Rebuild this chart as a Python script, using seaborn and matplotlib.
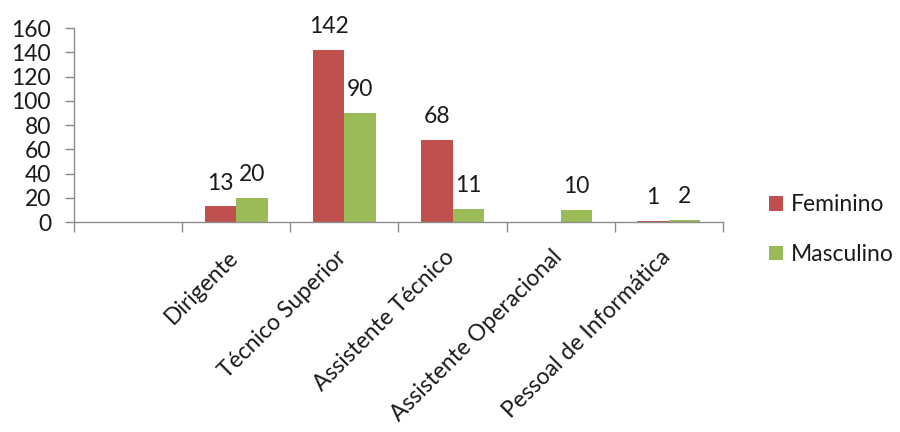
import matplotlib
matplotlib.use("Agg")
import matplotlib.pyplot as plt
import matplotlib.transforms as mtransforms
import seaborn as sns
import numpy as np
import pandas as pd
from matplotlib.ticker import FixedLocator

categories = ["", "Dirigente", "Técnico Superior", "Assistente Técnico",
              "Assistente Operacional", "Pessoal de Informática"]
feminino = [np.nan, 13, 142, 68, np.nan, 1]
masculino = [np.nan, 20, 90, 11, 10, 2]
series = ["Feminino", "Masculino"]
colors = ["#C0504D", "#9BBB59"]
yticks = [0, 20, 40, 60, 80, 100, 120, 140, 160]

df = pd.DataFrame({
    "cat": categories * 2,
    "serie": [series[0]] * len(categories) + [series[1]] * len(categories),
    "val": feminino + masculino,
})

sns.set_theme(style="white")
plt.rcParams["font.family"] = ["Lato", "DejaVu Sans"]
FS = 16.5
TXT = "#1a1a1a"

fig = plt.figure(figsize=(9, 4.32), dpi=100)
ax = fig.add_axes([0.0822, 0.486, 0.721, 0.449])

sns.barplot(data=df, x="cat", y="val", hue="serie", order=categories,
            hue_order=series, palette=colors, width=0.58, saturation=1,
            linewidth=0, ax=ax, legend=True)

for cont in ax.containers:
    for bar in cont:
        h = bar.get_height()
        if np.isnan(h):
            continue
        ax.annotate(f"{int(h)}", (bar.get_x() + bar.get_width() / 2, h),
                    xytext=(0, 9), textcoords="offset points",
                    ha="center", va="bottom", fontsize=FS, color=TXT)

ax.set_xlim(-0.5, len(categories) - 0.5)
ax.set_ylim(0, 160)
ax.set_yticks(yticks)
ax.set_xlabel("")
ax.set_ylabel("")

for s in ["top", "right"]:
    ax.spines[s].set_visible(False)
for s in ["left", "bottom"]:
    ax.spines[s].set_color("#8c8c8c")
    ax.spines[s].set_linewidth(1.0)

ax.tick_params(axis="y", which="major", length=6.5, width=1, color="#8c8c8c",
               labelsize=FS, labelcolor=TXT, pad=10, left=True)
ax.set_xticks(range(len(categories)))
ax.set_xticklabels(categories, rotation=45, ha="right", rotation_mode="anchor",
                   fontsize=FS, color=TXT)
ax.tick_params(axis="x", which="major", length=0, pad=14)
ax.xaxis.set_minor_locator(FixedLocator(np.arange(-0.5, len(categories), 1.0)))
ax.tick_params(axis="x", which="minor", length=7, width=1, color="#8c8c8c",
               bottom=True)

offset = mtransforms.ScaledTranslation(-9 / 100, -5 / 100, fig.dpi_scale_trans)
for lab in ax.get_xticklabels():
    lab.set_transform(lab.get_transform() + offset)

leg = ax.legend(loc="center left", bbox_to_anchor=(1.053, -0.04), frameon=False,
                fontsize=FS, handlelength=0.62, handleheight=0.62, borderpad=0,
                labelspacing=1.25, handletextpad=0.35)
for t in leg.get_texts():
    t.set_color(TXT)

fig.savefig("out.png", dpi=100)
